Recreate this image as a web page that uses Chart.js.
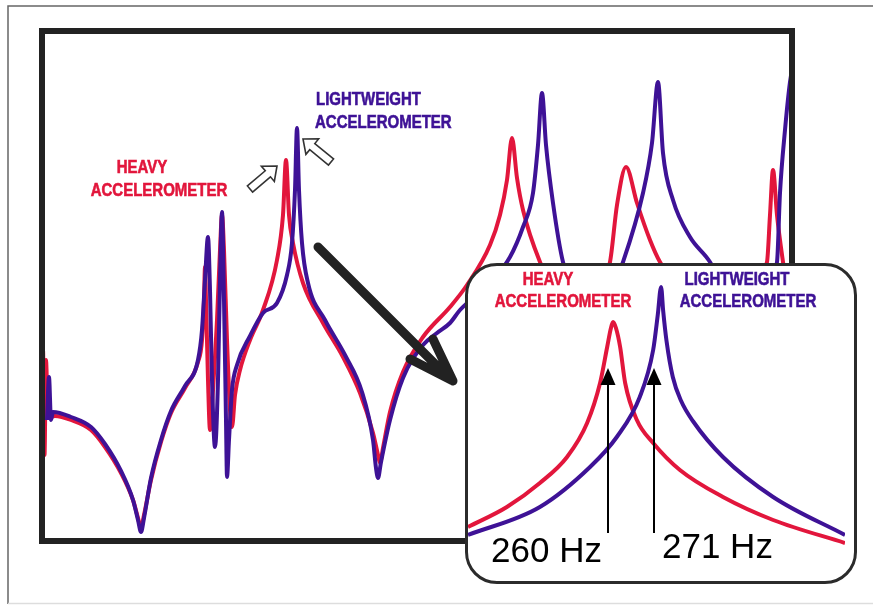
<!DOCTYPE html>
<html>
<head>
<meta charset="utf-8">
<script src="https://cdn.jsdelivr.net/npm/chart.js@4"></script>
<style>
  body { margin: 0; background: #fff; }
  #wrap { position: relative; width: 873px; height: 605px; }
  #main { position: absolute; left: 0; top: 0; }
  #inset {
    position: absolute; left: 465px; top: 263px; width: 392px; height: 321px;
    box-sizing: border-box; border: 3px solid #2b2b2b; border-radius: 32px;
    background: #fff; overflow: hidden;
  }
  #zoom { position: absolute; left: 0; top: 0; }
</style>
</head>
<body>
<div id="wrap">
  <canvas id="main" width="873" height="605"></canvas>
  <div id="inset"><canvas id="zoom" width="386" height="315"></canvas></div>
</div>
<script>
// main response trace (frequency units, amplitude units)
var heavyX = [0, 1, 2.5, 4, 6, 13, 29, 49, 63, 79, 91, 96, 99, 102, 109, 119, 129, 143, 156, 160, 162, 163, 164, 166, 168, 171, 175, 178, 180, 182, 185, 188, 190, 193, 198, 208, 221, 235, 241, 244, 247, 251, 261, 281, 301, 318, 331, 336, 338, 341, 348, 361, 381, 408, 425, 448, 458, 465, 470, 475, 481, 498, 533, 568, 575, 584, 595, 608, 618, 673, 725, 728, 731, 735, 741, 750];
var heavyY = [86, 191, 86, 181, 123, 125, 121, 111, 94, 68, 41, 23, 13, 26, 61, 99, 128, 153, 179, 201, 241, 274, 241, 161, 111, 151, 221, 291, 326, 291, 201, 131, 114, 146, 171, 201, 231, 281, 326, 381, 326, 298, 258, 218, 184, 148, 108, 86, 78, 93, 129, 169, 204, 234, 256, 296, 326, 361, 403, 363, 331, 279, 211, 279, 336, 374, 338, 301, 279, 211, 279, 326, 371, 326, 279, 221];
var lightX = [5, 7, 9, 11, 29, 49, 63, 79, 91, 96, 99, 102, 109, 119, 129, 143, 156, 160, 163, 166, 168, 170, 173, 176, 178, 180, 182, 184, 185, 187, 190, 195, 208, 221, 235, 245, 250, 253, 255, 257, 260, 266, 283, 303, 320, 331, 334, 336, 339, 348, 361, 381, 395, 408, 418, 448, 468, 481, 491, 496, 500, 504, 511, 521, 553, 581, 601, 610, 616, 621, 631, 648, 668, 703, 735, 738, 743, 748, 752];
var lightY = [121, 164, 121, 129, 124, 114, 97, 70, 41, 21, 9, 23, 63, 101, 130, 155, 181, 211, 261, 304, 251, 161, 94, 161, 261, 329, 241, 121, 64, 101, 151, 176, 205, 228, 238, 266, 298, 351, 413, 351, 298, 258, 221, 186, 149, 101, 73, 63, 79, 121, 163, 196, 208, 218, 231, 258, 284, 314, 348, 396, 448, 396, 338, 279, 211, 279, 348, 398, 459, 388, 341, 304, 279, 211, 279, 348, 411, 459, 481];

// zoomed resonance (Hz)
var heavyZoomHz = [226.5, 235.8, 243.7, 250.2, 255.0, 258.1, 259.8, 260.7, 261.2, 261.9, 262.9, 264.1, 266.9, 270.8, 277.2, 287.5, 299.5, 316.7];
var heavyZoomAmp = [54, 74, 98, 124, 158, 198, 234, 253, 259, 253, 234, 198, 161, 138, 111, 84, 61, 38];
var lightZoomHz = [226.5, 243.7, 255.7, 262.1, 267.6, 270.8, 271.9, 272.7, 273.2, 274.0, 275.5, 277.5, 280.3, 287.5, 299.5, 316.7];
var lightZoomAmp = [46, 74, 114, 144, 184, 231, 266, 294, 270, 240, 204, 180, 160, 124, 84, 46];
var markHz = [260, 271];

var RED = 'rgb(226, 22, 60)';
var BLUE = 'rgb(62, 18, 150)';

function pts(xs, ys) {
	return xs.map(function(x, i) { return { x: x, y: ys[i] }; });
}

function label(ctx, text, x, y, color, align) {
	ctx.save();
	ctx.translate(x, y);
	ctx.scale(1, 1.2);
	ctx.font = 'bold 15px "Liberation Sans"';
	ctx.fillStyle = color;
	ctx.strokeStyle = color;
	ctx.lineWidth = 0.5;
	ctx.textAlign = align;
	ctx.textBaseline = 'middle';
	ctx.fillText(text, 0, 0);
	ctx.strokeText(text, 0, 0);
	ctx.restore();
}

function hollowArrow(ctx, x0, y0, x1, y1) {
	var dx = x1 - x0, dy = y1 - y0, len = Math.hypot(dx, dy);
	var ux = dx / len, uy = dy / len, nx = -uy, ny = ux;
	var sw = 4, hw = 10, hl = 12;
	var bx = x1 - ux * hl, by = y1 - uy * hl;
	ctx.save();
	ctx.beginPath();
	ctx.moveTo(x0 + nx * sw, y0 + ny * sw);
	ctx.lineTo(bx + nx * sw, by + ny * sw);
	ctx.lineTo(bx + nx * hw, by + ny * hw);
	ctx.lineTo(x1, y1);
	ctx.lineTo(bx - nx * hw, by - ny * hw);
	ctx.lineTo(bx - nx * sw, by - ny * sw);
	ctx.lineTo(x0 - nx * sw, y0 - ny * sw);
	ctx.closePath();
	ctx.fillStyle = '#fff';
	ctx.fill();
	ctx.lineWidth = 1.6;
	ctx.strokeStyle = '#333';
	ctx.stroke();
	ctx.restore();
}

var mainDecor = {
	id: 'mainDecor',
	afterDraw: function(chart) {
		var ctx = chart.ctx, a = chart.chartArea;
		ctx.save();
		// outer frame
		ctx.strokeStyle = '#666';
		ctx.lineWidth = 1.5;
		ctx.beginPath();
		ctx.moveTo(8, 604); ctx.lineTo(8, 6); ctx.lineTo(873, 6);
		ctx.stroke();
		ctx.strokeStyle = '#ddd';
		ctx.beginPath();
		ctx.moveTo(8, 603.5); ctx.lineTo(873, 603.5);
		ctx.stroke();
		// plot box
		ctx.strokeStyle = '#222';
		ctx.lineWidth = 6;
		ctx.strokeRect(a.left, a.top, a.right - a.left, a.bottom - a.top);
		// big pointer arrow
		ctx.lineCap = 'round';
		ctx.lineWidth = 9;
		ctx.beginPath();
		ctx.moveTo(318, 247); ctx.lineTo(451, 380);
		ctx.moveTo(433, 339); ctx.lineTo(453, 381);
		ctx.moveTo(410, 359); ctx.lineTo(453, 381);
		ctx.stroke();
		ctx.restore();
		hollowArrow(ctx, 250, 189, 277, 166);
		hollowArrow(ctx, 331, 162, 303, 139);
		label(ctx, 'HEAVY', 142, 168, RED, 'center');
		label(ctx, 'ACCELEROMETER', 159, 191, RED, 'center');
		label(ctx, 'LIGHTWEIGHT', 316, 100, BLUE, 'left');
		label(ctx, 'ACCELEROMETER', 315, 123, BLUE, 'left');
	}
};

var zoomDecor = {
	id: 'zoomDecor',
	afterDraw: function(chart) {
		var ctx = chart.ctx, xs = chart.scales.x, ys = chart.scales.y;
		label(ctx, 'HEAVY', 80, 14, RED, 'center');
		label(ctx, 'ACCELEROMETER', 95, 36, RED, 'center');
		label(ctx, 'LIGHTWEIGHT', 269, 14, BLUE, 'center');
		label(ctx, 'ACCELEROMETER', 280, 36, BLUE, 'center');
		ctx.save();
		ctx.fillStyle = '#000';
		ctx.strokeStyle = '#000';
		ctx.lineWidth = 2;
		ctx.font = '35px "Liberation Sans"';
		ctx.textBaseline = 'alphabetic';
		markHz.forEach(function(hz, i) {
			var px = xs.getPixelForValue(hz);
			var tip = ys.getPixelForValue(213), base = ys.getPixelForValue(196), end = ys.getPixelForValue(48);
			ctx.beginPath();
			ctx.moveTo(px, end); ctx.lineTo(px, base);
			ctx.stroke();
			ctx.beginPath();
			ctx.moveTo(px, tip); ctx.lineTo(px - 7.5, base); ctx.lineTo(px + 7.5, base);
			ctx.closePath();
			ctx.fill();
			if (i == 0) {
				ctx.textAlign = 'right';
				ctx.fillText(hz + ' Hz', px - 6, 296);
			} else {
				ctx.textAlign = 'left';
				ctx.fillText(hz + ' Hz', px + 8, 292);
			}
		});
		ctx.restore();
	}
};

function lineSet(data, color) {
	return {
		data: data,
		borderColor: color,
		borderWidth: 4,
		pointRadius: 0,
		cubicInterpolationMode: 'monotone',
		fill: false
	};
}

new Chart(document.getElementById('main'), {
	type: 'line',
	data: {
		datasets: [
			lineSet(pts(lightX, lightY), BLUE),
			lineSet(pts(heavyX, heavyY), RED)
		]
	},
	options: {
		responsive: false,
		animation: false,
		devicePixelRatio: 1,
		layout: { padding: { left: 42, right: 81, top: 31, bottom: 64 } },
		plugins: { legend: { display: false }, tooltip: { enabled: false } },
		scales: {
			x: { type: 'linear', min: 0, max: 750, display: false },
			y: { type: 'linear', min: 0, max: 510, display: false }
		}
	},
	plugins: [mainDecor]
});

new Chart(document.getElementById('zoom'), {
	type: 'line',
	data: {
		datasets: [
			lineSet(pts(lightZoomHz, lightZoomAmp), BLUE),
			lineSet(pts(heavyZoomHz, heavyZoomAmp), RED)
		]
	},
	options: {
		responsive: false,
		animation: false,
		devicePixelRatio: 1,
		layout: { padding: { left: 0, right: 9, top: 0, bottom: 0 } },
		plugins: { legend: { display: false }, tooltip: { enabled: false } },
		scales: {
			x: { type: 'linear', min: 226.5, max: 316.7, display: false },
			y: { type: 'linear', min: 0, max: 315, display: false }
		}
	},
	plugins: [zoomDecor]
});
</script>
</body>
</html>
